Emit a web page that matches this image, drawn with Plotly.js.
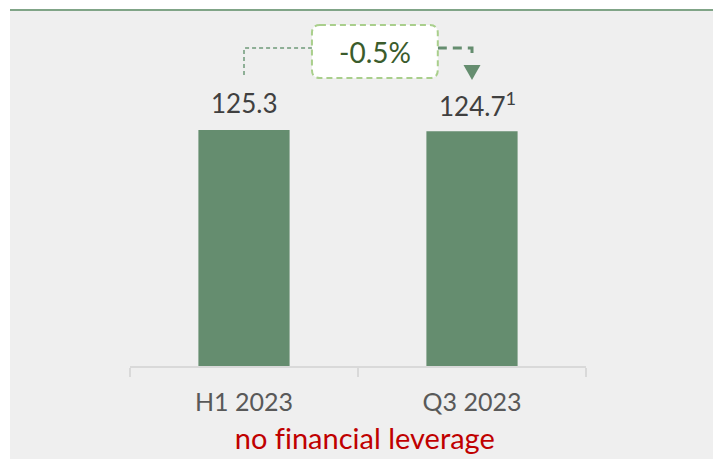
<!DOCTYPE html>
<html>
<head>
<meta charset="utf-8">
<script src="https://cdn.plot.ly/plotly-3.0.1.min.js"></script>
<style>
  html, body { margin: 0; padding: 0; background: #ffffff; width: 713px; height: 459px; overflow: hidden; }
  #wrap { position: absolute; left: 10px; top: 9px; width: 703px; border-top: 2px solid #80a487; }
  #chart { width: 703px; height: 448px; }
  #chart text { font-variant-ligatures: none; font-feature-settings: "liga" 0; }
</style>
</head>
<body>
<div id="wrap"><div id="chart"></div></div>
<script>
// ---- data ----
const categories = ["H1 2023", "Q3 2023"];
const values = [125.3, 124.7];
const footnotes = ["", "1"];
const subtitle = "no financial leverage";

// ---- derived ----
const change = ((values[1] - values[0]) / values[0] * 100).toFixed(1) + "%";
const yMax = 188.5;
const FONT = "Lato, 'Open Sans', sans-serif";
const barColor = "#658d6f";

// category centres in paper coords
const cx = categories.map((c, i) => (i + 0.5) / categories.length);

// annotation geometry (data units on y, paper on x)
const boxX0 = 0.399, boxX1 = 0.675, boxY0 = 152.9, boxY1 = 181.0;
const rx = 0.0175, ry = 4.25;
const connY = 168.8;
const leftDrop = 154.5, rightDrop = 164.1;
const triTop = 159.8, triTip = 151.9, triHalf = 0.0186;

const boxPath = `M ${boxX0+rx},${boxY1} L ${boxX1-rx},${boxY1} Q ${boxX1},${boxY1} ${boxX1},${boxY1-ry} ` +
  `L ${boxX1},${boxY0+ry} Q ${boxX1},${boxY0} ${boxX1-rx},${boxY0} L ${boxX0+rx},${boxY0} ` +
  `Q ${boxX0},${boxY0} ${boxX0},${boxY0+ry} L ${boxX0},${boxY1-ry} Q ${boxX0},${boxY1} ${boxX0+rx},${boxY1} Z`;

const shapes = [
  // left connector
  { type: "path", xref: "paper", yref: "y",
    path: `M ${cx[0]},${leftDrop} L ${cx[0]},${connY} L ${boxX0},${connY}`,
    line: { color: "#6f9a79", width: 1.5, dash: "4px,3px" } },
  // right connector
  { type: "path", xref: "paper", yref: "y",
    path: `M ${boxX1},${connY} L ${cx[1]},${connY} L ${cx[1]},${rightDrop}`,
    line: { color: barColor, width: 3, dash: "9px,6px" } },
  // arrow head
  { type: "path", xref: "paper", yref: "y",
    path: `M ${cx[1]-triHalf},${triTop} L ${cx[1]+triHalf},${triTop} L ${cx[1]},${triTip} Z`,
    fillcolor: barColor, line: { color: barColor, width: 0 } },
  // box
  { type: "path", xref: "paper", yref: "y", path: boxPath,
    fillcolor: "#ffffff", line: { color: "#a9cf8c", width: 2, dash: "6px,4px" } }
];

const annotations = [];
categories.forEach((c, i) => {
  const txt = values[i].toFixed(1) + (footnotes[i] ? "<sup>" + footnotes[i] + "</sup>" : "");
  annotations.push({
    x: c, y: values[i], xref: "x", yref: "y", text: txt, showarrow: false,
    yanchor: "middle", yshift: 27, xshift: footnotes[i] ? 5 : 0,
    font: { family: FONT, size: 26, color: "#404040" }
  });
});
annotations.push({
  x: (boxX0 + boxX1) / 2, y: (boxY0 + boxY1) / 2, xref: "paper", yref: "y",
  text: change, showarrow: false, font: { family: FONT, size: 28, color: "#3b5c2c" }
});
annotations.push({
  x: 0.5, y: 0, xref: "paper", yref: "paper", text: subtitle, showarrow: false,
  yanchor: "middle", yshift: -71, xshift: 7, font: { family: FONT, size: 29, color: "#c00000" }
});

const trace = {
  type: "bar", x: categories, y: values,
  marker: { color: barColor, line: { width: 0 } },
  hoverinfo: "skip"
};

const layout = {
  width: 703, height: 448,
  margin: { l: 120, r: 127, t: 0, b: 93 },
  paper_bgcolor: "#efefef", plot_bgcolor: "#efefef",
  bargap: 0.6, showlegend: false,
  xaxis: {
    type: "category", showline: true, linecolor: "#d9d9d9", linewidth: 2,
    ticks: "outside", tickson: "boundaries", ticklen: 9, tickcolor: "#d9d9d9", tickwidth: 2,
    tickfont: { family: FONT, size: 25, color: "#595959" }, ticklabelstandoff: 13,
    showgrid: false, zeroline: false, fixedrange: true
  },
  yaxis: { range: [0, yMax], visible: false, showgrid: false, zeroline: false, fixedrange: true },
  shapes: shapes, annotations: annotations
};

Plotly.newPlot("chart", [trace], layout, { displayModeBar: false, staticPlot: true });
</script>
</body>
</html>
